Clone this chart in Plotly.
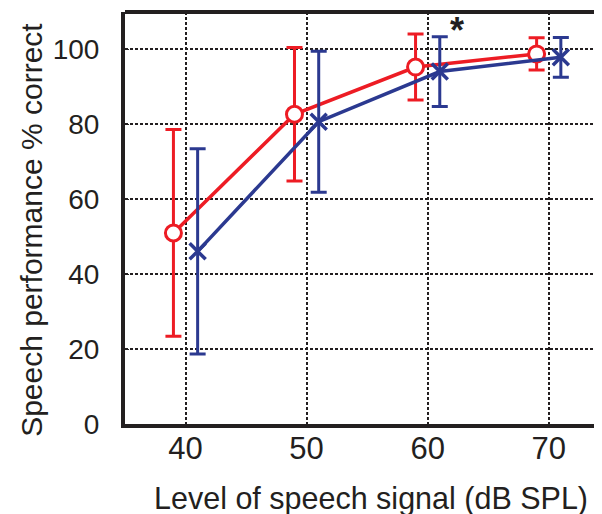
import plotly.graph_objects as go

levels = [40, 50, 60, 70]
red_x = [39, 49, 59, 69]
red_y = [51, 82.7, 95.3, 98.8]
red_err = [27.6, 17.8, 8.8, 4.3]
blue_x = [41, 51, 61, 71]
blue_y = [46.1, 80.7, 94.1, 97.9]
blue_err = [27.4, 18.8, 9.3, 5.3]
y_ticks = [0, 20, 40, 60, 80, 100]

RED = "#ED1C24"
BLUE = "#2B3990"
INK = "#231F20"

fig = go.Figure()
fig.add_trace(go.Scatter(
    x=red_x, y=red_y, mode="lines+markers",
    line=dict(color=RED, width=3.5),
    marker=dict(symbol="circle", size=16, color="white", line=dict(color=RED, width=3)),
    error_y=dict(type="data", array=red_err, color=RED, thickness=3, width=8),
    showlegend=False, cliponaxis=False))
fig.add_trace(go.Scatter(
    x=blue_x, y=blue_y, mode="lines+markers",
    line=dict(color=BLUE, width=3.5),
    marker=dict(symbol="x-thin", size=16, color=BLUE, line=dict(color=BLUE, width=3.5)),
    error_y=dict(type="data", array=blue_err, color=BLUE, thickness=3, width=8),
    showlegend=False, cliponaxis=False))

fig.add_annotation(x=62.4, y=105, text="<b>*</b>", showarrow=False,
                   font=dict(size=36, color=INK, family="Liberation Sans"))

# axis titles as annotations (positioned like the reference)
fig.add_annotation(xref="paper", yref="paper", x=0.516, y=-0.18,
                   xanchor="center", yanchor="middle", showarrow=False,
                   text="Level of speech signal (dB SPL)", font=dict(size=30.5, color=INK))
fig.add_annotation(xref="paper", yref="paper", x=-0.196, y=0.47,
                   xanchor="center", yanchor="middle", showarrow=False, textangle=-90,
                   text="Speech performance % correct", font=dict(size=30, color=INK))

# top spine
fig.add_shape(type="line", xref="paper", yref="paper", x0=0, x1=1, y0=1, y1=1,
              line=dict(color=INK, width=4))

fig.update_layout(
    width=594, height=506,
    margin=dict(l=117, r=0, t=4, b=90),
    paper_bgcolor="white", plot_bgcolor="white",
    font=dict(family="Liberation Sans, Arial", color=INK, size=29),
    xaxis=dict(range=[35, 74.4], tickvals=levels, showgrid=True,
               gridcolor=INK, griddash="3px,2px", gridwidth=2,
               showline=True, linecolor=INK, linewidth=4,
               zeroline=False, ticks="", ticklabelstandoff=-6,
               tickfont=dict(size=31)),
    yaxis=dict(range=[0, 110], tickvals=y_ticks, showgrid=True,
               gridcolor=INK, griddash="3px,2px", gridwidth=2,
               showline=True, linecolor=INK, linewidth=4,
               zeroline=False, ticks="inside", ticklen=4, tickcolor=INK,
               ticklabelstandoff=16, tickfont=dict(size=28)),
)

fig.write_html("out.html")
